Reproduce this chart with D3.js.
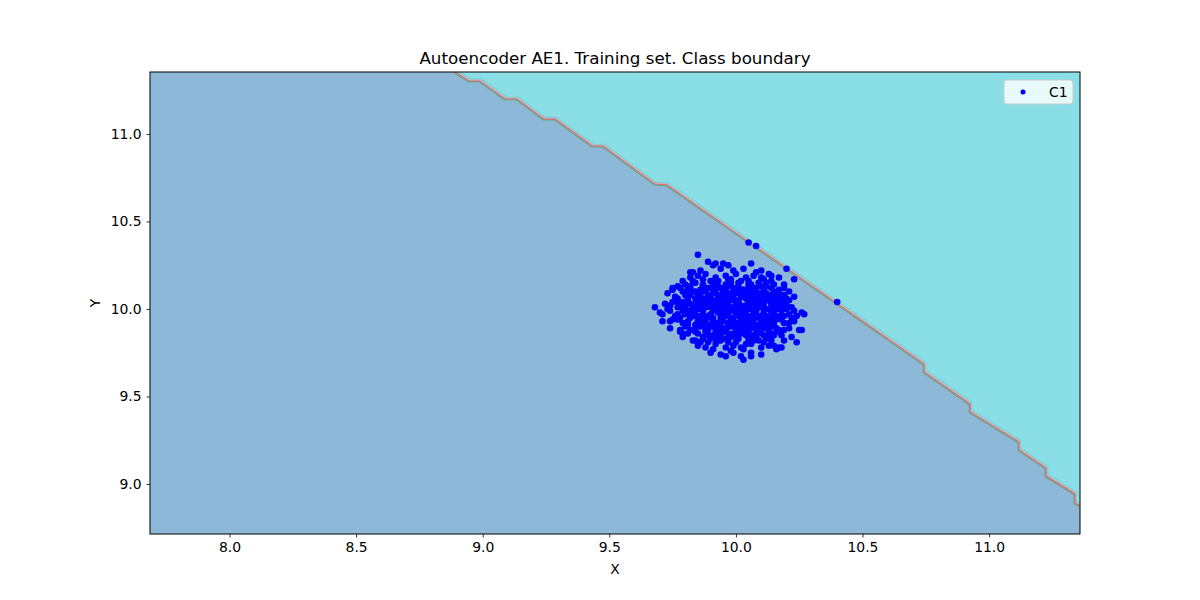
<!DOCTYPE html>
<html><head><meta charset="utf-8">
<script src="https://cdn.jsdelivr.net/npm/d3@7"></script>
<style>body{margin:0;background:#fff}svg{display:block}text{font-family:"DejaVu Sans",sans-serif}</style>
</head><body><svg id="c" width="1200" height="600"></svg>
<script>
const xTicks = [8.0, 8.5, 9.0, 9.5, 10.0, 10.5, 11.0];
const yTicks = [9.0, 9.5, 10.0, 10.5, 11.0];
const xDomain = [7.686, 11.359];
const yDomain = [8.714, 11.354];
// class boundary (stepped contour) in data coords
const boundaryX = [8.890, 8.946, 8.989, 9.088, 9.135, 9.242, 9.286, 9.432, 9.475, 9.680, 9.728, 10.743, 10.743, 10.925, 10.925, 11.118, 11.118, 11.225, 11.225, 11.339, 11.339, 11.359];
const boundaryY = [11.354, 11.303, 11.303, 11.200, 11.200, 11.085, 11.085, 10.931, 10.931, 10.714, 10.708, 9.685, 9.640, 9.457, 9.411, 9.240, 9.194, 9.091, 9.045, 8.943, 8.891, 8.874];
const seriesName = "C1";
const c1Points = [
[9.89,10.27],[9.95,10.26],[9.91,10.25],[9.97,10.25],[10.06,10.26],[10.03,10.23],[10.10,10.22],[10.14,10.19],[9.86,10.22],[9.83,10.21],[9.99,10.22],[10.08,10.21],[9.94,10.23],
[9.82,10.18],[9.85,10.19],[9.88,10.20],[9.92,10.18],[9.96,10.19],[10.00,10.20],[10.04,10.18],[10.07,10.19],[10.11,10.17],[10.13,10.20],[10.17,10.18],[9.79,10.16],[9.90,10.16],[10.02,10.16],[10.09,10.15],
[9.77,10.13],[9.80,10.14],[9.84,10.15],[9.87,10.13],[9.91,10.14],[9.94,10.12],[9.98,10.15],[10.01,10.13],[10.05,10.14],[10.08,10.12],[10.12,10.13],[10.15,10.14],[10.19,10.12],[10.21,10.10],[9.75,10.11],[9.96,10.10],[10.03,10.11],
[9.73,10.09],[9.76,10.07],[9.80,10.08],[9.83,10.10],[9.86,10.09],[9.89,10.07],[9.93,10.08],[9.97,10.07],[10.00,10.09],[10.04,10.08],[10.07,10.10],[10.10,10.07],[10.14,10.08],[10.17,10.09],[10.20,10.06],[10.23,10.07],[9.92,10.05],[10.06,10.05],
[9.72,10.03],[9.75,10.04],[9.78,10.02],[9.81,10.05],[9.84,10.03],[9.88,10.04],[9.91,10.02],[9.95,10.03],[9.98,10.05],[10.02,10.02],[10.05,10.04],[10.09,10.03],[10.12,10.05],[10.16,10.02],[10.19,10.04],[10.22,10.01],[9.94,10.00],[10.00,10.00],
[9.70,9.98],[9.74,9.99],[9.77,9.97],[9.80,10.00],[9.83,9.98],[9.87,9.99],[9.90,9.97],[9.93,9.98],[9.97,9.96],[10.01,9.98],[10.04,9.97],[10.08,9.99],[10.11,9.98],[10.14,9.97],[10.18,9.99],[10.21,9.97],[10.24,9.96],[10.26,9.98],
[9.71,9.93],[9.75,9.94],[9.79,9.92],[9.82,9.95],[9.85,9.93],[9.88,9.94],[9.92,9.92],[9.95,9.95],[9.99,9.93],[10.02,9.94],[10.06,9.92],[10.09,9.95],[10.13,9.93],[10.16,9.94],[10.19,9.92],[10.23,9.93],[9.97,9.90],[10.04,9.90],
[9.74,9.89],[9.78,9.87],[9.82,9.88],[9.86,9.90],[9.89,9.88],[9.93,9.87],[9.96,9.89],[10.00,9.88],[10.03,9.87],[10.07,9.89],[10.10,9.88],[10.14,9.90],[10.17,9.87],[10.21,9.89],[10.25,9.88],[9.91,9.85],[10.06,9.85],
[9.79,9.84],[9.83,9.82],[9.87,9.84],[9.90,9.83],[9.94,9.82],[9.98,9.84],[10.01,9.83],[10.05,9.82],[10.08,9.84],[10.12,9.83],[10.15,9.85],[10.19,9.82],[10.22,9.84],
[9.85,9.79],[9.88,9.78],[9.92,9.80],[9.96,9.78],[9.99,9.79],[10.03,9.77],[10.06,9.80],[10.10,9.78],[10.13,9.79],[10.17,9.78],[10.24,9.81],
[9.90,9.75],[9.94,9.74],[9.98,9.76],[10.02,9.73],[10.06,9.75],[10.10,9.74],[10.03,9.71],[9.96,9.73],
[9.85,10.31],[9.68,10.01],[10.05,10.38],[10.08,10.36],[10.20,10.23],[10.40,10.04],[10.27,9.97],[10.26,9.88],[10.18,9.78],[10.06,9.73],[9.71,9.97],[9.78,9.88],[9.79,9.86],[9.75,10.12],[9.92,10.26],[10.23,10.17],[10.19,10.14],[9.82,10.21],[9.84,9.82],[9.85,9.81],[9.91,9.77],[9.99,9.75],[10.15,9.79],[10.16,9.77],[10.02,9.78],[9.77,10.04],[9.74,9.93],
[9.86,10.11],[9.90,10.12],[9.95,10.11],[9.99,10.12],[10.03,10.11],[10.07,10.12],[10.11,10.11],[9.84,10.06],[9.88,10.06],[9.95,10.06],[9.99,10.06],[10.02,10.07],[10.09,10.06],[10.13,10.05],[9.86,10.01],[9.90,10.01],[9.96,10.01],[10.03,10.00],[10.07,10.01],[10.11,10.01],[10.15,10.00],[9.85,9.96],[9.89,9.96],[9.95,9.97],[9.99,9.95],[10.03,9.96],[10.06,9.96],[10.10,9.96],[10.16,9.96],[9.87,9.91],[9.90,9.91],[9.94,9.90],[10.00,9.91],[10.05,9.91],[10.08,9.91],[10.12,9.91],[9.92,9.86],[9.97,9.86],[10.02,9.86],[10.09,9.86],[10.13,9.86],[9.84,9.99],[10.18,10.03],[9.81,10.11],[9.97,10.17],
[9.83,10.16],[9.87,10.17],[9.93,10.16],[9.98,10.17],[10.05,10.16],[10.10,10.18],[10.14,10.16],
[9.78,10.12],[9.82,10.13],[9.89,10.12],[9.93,10.13],[9.97,10.13],[10.00,10.11],[10.05,10.12],[10.10,10.13],[10.14,10.12],[10.17,10.11],
[9.79,10.10],[9.82,10.08],[9.85,10.08],[9.91,10.09],[9.95,10.09],[9.98,10.09],[10.02,10.09],[10.05,10.10],[10.09,10.09],[10.12,10.09],[10.16,10.07],[10.19,10.08],
[9.77,10.06],[9.81,10.06],[9.86,10.05],[9.90,10.06],[9.93,10.06],[9.97,10.05],[10.01,10.05],[10.04,10.06],[10.08,10.05],[10.11,10.07],[10.15,10.06],[10.18,10.06],[10.21,10.05],
[9.74,10.02],[9.79,10.04],[9.83,10.01],[9.86,10.03],[9.90,10.04],[9.93,10.03],[9.97,10.02],[10.00,10.03],[10.04,10.02],[10.07,10.03],[10.10,10.04],[10.14,10.03],[10.17,10.01],[10.20,10.02],
[9.73,10.00],[9.77,10.01],[9.81,9.99],[9.85,10.00],[9.88,10.01],[9.92,10.00],[9.95,10.00],[9.98,10.01],[10.02,10.00],[10.05,10.00],[10.09,10.01],[10.13,10.00],[10.16,10.00],[10.20,10.00],[10.23,9.99],
[9.76,9.96],[9.80,9.97],[9.84,9.96],[9.87,9.97],[9.91,9.95],[9.94,9.96],[9.97,9.98],[10.00,9.96],[10.04,9.95],[10.08,9.97],[10.12,9.96],[10.15,9.98],[10.19,9.96],[10.22,9.95],
[9.77,9.94],[9.81,9.93],[9.84,9.91],[9.88,9.92],[9.91,9.93],[9.95,9.93],[9.98,9.92],[10.01,9.92],[10.04,9.93],[10.07,9.94],[10.11,9.93],[10.14,9.92],[10.18,9.94],[10.21,9.92],
[9.80,9.90],[9.84,9.89],[9.88,9.89],[9.92,9.89],[9.95,9.88],[9.98,9.90],[10.02,9.89],[10.05,9.88],[10.09,9.90],[10.12,9.89],[10.16,9.89],[10.19,9.88],
[9.81,9.86],[9.85,9.86],[9.89,9.85],[9.94,9.85],[9.99,9.86],[10.04,9.85],[10.08,9.86],[10.11,9.85],[10.15,9.86],[10.18,9.85],
[9.86,9.81],[9.89,9.81],[9.93,9.82],[9.97,9.81],[10.00,9.81],[10.04,9.80],[10.07,9.82],[10.11,9.81],[10.14,9.82],
[9.87,10.14],[9.92,10.15],[9.96,10.14],[10.01,10.15],[10.06,10.14],[10.12,10.15],
[9.84,10.10],[9.88,10.10],[9.92,10.11],[9.96,10.12],[10.01,10.10],[10.06,10.08],[10.11,10.09],[10.15,10.10],
[9.82,10.03],[9.86,10.07],[9.90,10.08],[9.94,10.07],[9.99,10.08],[10.03,10.07],[10.07,10.07],[10.12,10.07],[10.16,10.05],
[9.80,10.02],[9.85,10.04],[9.89,10.03],[9.93,10.04],[9.96,10.04],[10.01,10.04],[10.06,10.03],[10.11,10.03],[10.15,10.04],[10.19,10.02],
[9.79,9.99],[9.83,10.00],[9.87,10.02],[9.91,9.99],[9.95,9.99],[9.99,9.99],[10.03,9.98],[10.07,9.98],[10.11,10.00],[10.14,9.99],[10.18,10.01],
[9.78,9.95],[9.82,9.96],[9.86,9.94],[9.90,9.95],[9.94,9.94],[9.98,9.94],[10.02,9.96],[10.06,9.94],[10.10,9.93],[10.14,9.95],[10.18,9.96],
[9.81,9.91],[9.86,9.92],[9.90,9.90],[9.93,9.92],[9.97,9.92],[10.03,9.91],[10.07,9.91],[10.11,9.91],[10.15,9.91],
[9.84,9.87],[9.88,9.87],[9.92,9.88],[9.96,9.87],[10.01,9.87],[10.05,9.86],[10.09,9.88],[10.13,9.88],[10.17,9.88],
[9.87,9.83],[9.92,9.83],[9.96,9.83],[10.00,9.84],[10.05,9.84],[10.09,9.82],[10.13,9.84]
];

const svg = d3.select("#c");
const L = 150, R = 1080, T = 72, B = 534;
const x = d3.scaleLinear().domain(xDomain).range([L, R]);
const y = d3.scaleLinear().domain(yDomain).range([B, T]);

svg.append("defs").append("clipPath").attr("id","clip").append("rect")
  .attr("x", L).attr("y", T).attr("width", R - L).attr("height", B - T);
const g = svg.append("g").attr("clip-path","url(#clip)");

// lower region
g.append("rect").attr("x", L).attr("y", T).attr("width", R - L).attr("height", B - T).attr("fill", "#8db8d7");
const bpts = boundaryX.map((v, i) => [v, boundaryY[i]]);
const upper = bpts.concat([[xDomain[1], yDomain[1]]]);
const ln = d3.line().x(d => x(d[0])).y(d => y(d[1]));
g.append("path").attr("d", ln(upper) + "Z").attr("fill", "#8adee5");
g.append("path").attr("d", ln(bpts)).attr("fill","none").attr("stroke","#7ccccf").attr("stroke-width",1).attr("transform","translate(1.8,-1.8)");
g.append("path").attr("d", ln(bpts)).attr("fill","none").attr("stroke","#62a872").attr("stroke-width",1).attr("transform","translate(-0.9,0.9)");
g.append("path").attr("d", ln(bpts)).attr("fill","none").attr("stroke","#dba6bd").attr("stroke-width",1).attr("transform","translate(0.9,-0.9)");
g.append("path").attr("d", ln(bpts)).attr("fill","none").attr("stroke","#cf6f6f").attr("stroke-width",1.1);

// scatter
g.append("g").selectAll("circle").data(c1Points).join("circle")
  .attr("cx", d => x(d[0])).attr("cy", d => y(d[1])).attr("r", 3.3).attr("fill", "#0000ff");

// frame
svg.append("rect").attr("x", L).attr("y", T).attr("width", R - L).attr("height", B - T)
  .attr("fill","none").attr("stroke","#000").attr("stroke-width",1);

// axes
const xa = svg.append("g").attr("transform", `translate(0,${B})`)
  .call(d3.axisBottom(x).tickValues(xTicks).tickFormat(d3.format(".1f")).tickSize(3.5).tickPadding(4.9));
const ya = svg.append("g").attr("transform", `translate(${L},0)`)
  .call(d3.axisLeft(y).tickValues(yTicks).tickFormat(d3.format(".1f")).tickSize(3.5).tickPadding(4.9));
[xa, ya].forEach(a => {
  a.select(".domain").remove();
  a.selectAll("text").attr("font-size", "13.9px").attr("fill", "#000").style("font-family", '"DejaVu Sans", sans-serif');
  a.selectAll("line").attr("stroke", "#000").attr("stroke-width", 0.8);
});

svg.append("text").attr("x", (L + R) / 2).attr("y", 64).attr("text-anchor","middle").attr("font-size","16.7px").text("Autoencoder AE1. Training set. Class boundary");
svg.append("text").attr("x", (L + R) / 2).attr("y", 574).attr("text-anchor","middle").attr("font-size","13.9px").text("X");
svg.append("text").attr("transform", "translate(100,303) rotate(-90)").attr("text-anchor","middle").attr("font-size","13.9px").text("Y");

// legend
const lg = svg.append("g");
lg.append("rect").attr("x", 1004).attr("y", 80).attr("width", 69).attr("height", 24).attr("rx", 3)
  .attr("fill", "#ffffff").attr("fill-opacity", 0.8).attr("stroke", "#cccccc").attr("stroke-width", 1);
lg.append("circle").attr("cx", 1023).attr("cy", 92).attr("r", 2.5).attr("fill", "#0000ff");
lg.append("text").attr("x", 1049).attr("y", 97).attr("font-size", "13.9px").text(seriesName);
</script></body></html>
